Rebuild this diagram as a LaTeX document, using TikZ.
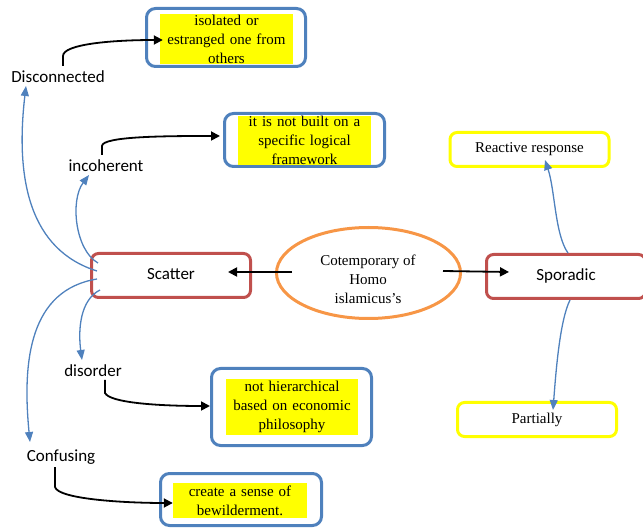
\documentclass[tikz,border=0pt]{standalone}
\usepackage{fontspec}
\setmainfont{Liberation Serif}
\newfontfamily\lblfont{Carlito}
\usetikzlibrary{arrows.meta,shapes.geometric}

\definecolor{boxblue}{RGB}{79,129,189}
\definecolor{boxred}{RGB}{192,80,77}
\definecolor{ovalorange}{RGB}{247,150,70}
\definecolor{hiyellow}{RGB}{255,255,0}

\tikzset{
  outerblue/.style={draw=boxblue, line width=3pt, rounded corners=9pt, inner sep=0pt},
  highlight/.style={fill=hiyellow, inner sep=0pt, align=center, font=\fontsize{15}{19}\selectfont},
  redbox/.style={draw=boxred, line width=3pt, rounded corners=7pt, minimum width=159pt, minimum height=44pt,
    text height=12pt, text depth=3.5pt, font=\lblfont\fontsize{17}{20}\selectfont},
  yellowbox/.style={draw=hiyellow, line width=3pt, rounded corners=7pt, minimum width=159pt, minimum height=34pt,
    font=\fontsize{15}{19}\selectfont},
  oval/.style={draw=ovalorange, line width=3pt, ellipse, minimum width=184pt, minimum height=91pt},
  ovaltext/.style={align=center, inner sep=0pt, font=\fontsize{15}{19}\selectfont},
  term/.style={font=\lblfont\fontsize{17}{20}\selectfont, inner sep=0pt, anchor=base},
  blackarrow/.style={draw=black, line width=1.8pt, -{Triangle[length=9pt,width=9pt]}},
  bluearrow/.style={draw=boxblue, line width=1.3pt, -{Triangle[length=10pt,width=8pt]}},
}

\begin{document}
\begin{tikzpicture}[x=1pt,y=-1pt]
\useasboundingbox (0,0) rectangle (643,529);

% central oval and the two main branches
\node[oval] (ell) at (368.5,273) {};
\node[ovaltext] (ellt) at (368,279) {Cotemporary of\\Homo\\islamicus’s};
\node[redbox] (sc) at (171,275.5) {Scatter};
\node[redbox] (sp) at (566,276.5) {Sporadic};

% Sporadic side
\node[yellowbox] (re) at (529.5,149.5) {Reactive response};
\node[yellowbox] (pa) at (537,419.5) {Partially};

% Scatter side terms
\node[term] (dis) at (58,83) {Disconnected};
\node[term] (inc) at (106,172) {incoherent};
\node[term] (dord) at (93,377) {disorder};
\node[term] (conf) at (61,461) {Confusing};

% explanation boxes
\node[outerblue, minimum width=159pt, minimum height=58pt] (o1) at (226,37.5) {};
\node[highlight, text width=133pt, minimum height=50pt] (y1) at (226.5,39) {isolated or\\estranged one from\\others};

\node[outerblue, minimum width=160pt, minimum height=53pt] (o2) at (304.5,140) {};
\node[highlight, text width=133pt, minimum height=49pt] (y2) at (304.5,140.5) {it is not built on a\\specific logical\\framework};

\node[outerblue, minimum width=160pt, minimum height=77pt] (o3) at (291.5,407) {};
\node[highlight, text width=132pt, minimum height=56pt] (y3) at (292,407) {not hierarchical\\based on economic\\philosophy};

\node[outerblue, minimum width=161pt, minimum height=52pt] (o4) at (241,499.5) {};
\node[highlight, text width=134pt, minimum height=35pt] (y4) at (240,500.5) {create a sense of\\bewilderment.};

% main horizontal arrows
\draw[blackarrow] ([shift={(-76.5,-1)}]ell.center) -- ([shift={(57,-3.5)}]sc.center);
\draw[blackarrow] ([shift={(74.5,-2)}]ell.center) -- ([shift={(24,-4.5)}]sp.west);

% branches out of Scatter
\draw[bluearrow] ([shift={(7,-4.5)}]sc.west) .. controls (30,250) and (15,180) .. ([shift={(-32,3)}]dis.base);
\draw[bluearrow] ([shift={(8,-12.5)}]sc.west) .. controls (75,250) and (70,200) .. ([shift={(-17,3)}]inc.base);
\draw[bluearrow] ([shift={(7,3.5)}]sc.west) .. controls (30,290) and (22,360) .. ([shift={(-31,-19)}]conf.base);
\draw[bluearrow] ([shift={(10,14.5)}]sc.west) .. controls (80,300) and (78,330) .. ([shift={(-11,-17)}]dord.base);

% branches out of Sporadic
\draw[bluearrow] ([shift={(2,0)}]sp.north) .. controls (555,235) and (555,190) .. ([shift={(15.5,10.5)}]re.center);
\draw[bluearrow] ([shift={(4,0)}]sp.south) .. controls (560,320) and (556,370) .. ([shift={(16,-9.5)}]pa.center);

% from each term to its explanation
\draw[blackarrow] ([shift={(5,-17)}]dis.base) -- ++(0,-10) .. controls +(0,-12) and +(-50,0) .. ([shift={(3,1)}]y1.west);
\draw[blackarrow] ([shift={(-4,-17)}]inc.base) -- ++(0,-9) .. controls +(0,-10) and +(-50,0) .. ([shift={(-3,-4)}]o2.west);
\draw[blackarrow] ([shift={(12,3)}]dord.base) -- ++(0,13) .. controls +(5,10) and +(-50,0) .. ([shift={(0,-1)}]o3.west);
\draw[blackarrow] ([shift={(-6,6)}]conf.base) -- ++(0,20) .. controls +(3,12) and +(-50,0) .. ([shift={(0,2.5)}]y4.west);
\end{tikzpicture}
\end{document}
